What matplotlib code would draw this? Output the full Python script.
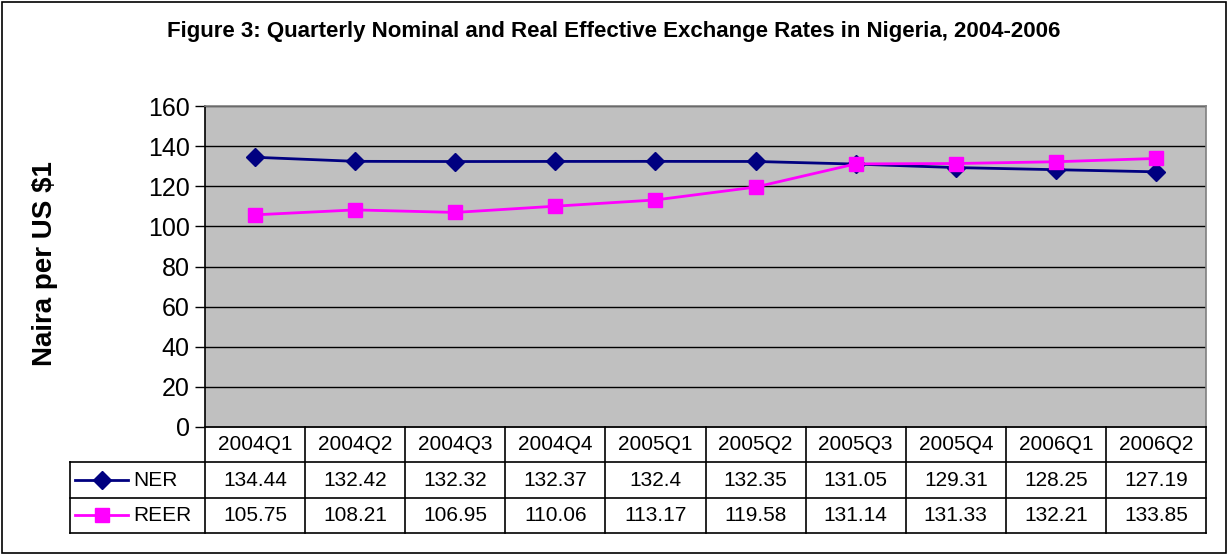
import matplotlib
matplotlib.use("Agg")
import matplotlib.pyplot as plt
from matplotlib.patches import Rectangle

plt.rcParams['font.family'] = ['Liberation Sans', 'DejaVu Sans']

quarters = ["2004Q1", "2004Q2", "2004Q3", "2004Q4", "2005Q1",
            "2005Q2", "2005Q3", "2005Q4", "2006Q1", "2006Q2"]
ner = [134.44, 132.42, 132.32, 132.37, 132.4, 132.35, 131.05, 129.31, 128.25, 127.19]
reer = [105.75, 108.21, 106.95, 110.06, 113.17, 119.58, 131.14, 131.33, 132.21, 133.85]
ner_labels = ["134.44", "132.42", "132.32", "132.37", "132.4", "132.35", "131.05", "129.31", "128.25", "127.19"]
reer_labels = ["105.75", "108.21", "106.95", "110.06", "113.17", "119.58", "131.14", "131.33", "132.21", "133.85"]
yticks = [0, 20, 40, 60, 80, 100, 120, 140, 160]

W, H = 1228, 556
fig = plt.figure(figsize=(W / 100, H / 100), dpi=100)
fig.patch.set_facecolor("white")

# outer border
fig.add_artist(Rectangle((2 / W, 3 / H), (W - 4) / W, (H - 5) / H, transform=fig.transFigure,
                         fill=False, edgecolor="black", linewidth=1.2))

def fx(px):
    return px / W

def fy(py):
    return 1 - py / H

L, R, T, B = 205, 1206, 106, 427
ax = fig.add_axes([fx(L), fy(B), (R - L) / W, (B - T) / H])
ax.set_facecolor("#C0C0C0")
ax.set_xlim(-0.5, len(quarters) - 0.5)
ax.set_ylim(0, 160)
ax.set_yticks(yticks)
ax.set_yticklabels([str(v) for v in yticks], fontsize=18)
ax.tick_params(axis="y", length=7, width=1, pad=4, direction="out")
ax.set_xticks([])
ax.grid(axis="y", color="black", linewidth=1)
ax.set_axisbelow(True)
for s in ax.spines.values():
    s.set_color("#808080")
    s.set_linewidth(1.2)
ax.spines["left"].set_color("black")

x = list(range(len(quarters)))
ax.plot(x, ner, color="#000080", linewidth=2, marker="D", markersize=9,
        markerfacecolor="#000080", markeredgecolor="#000080", zorder=3)
ax.plot(x, reer, color="#FF00FF", linewidth=2, marker="s", markersize=10,
        markerfacecolor="#FF00FF", markeredgecolor="#FF00FF", zorder=3)

ax.set_ylabel("Naira per US $1", fontsize=20, fontweight="bold")
ax.yaxis.set_label_coords(-(L - 58) / (R - L), (B - 264) / (B - T))

fig.text(0.5, fy(32), "Figure 3: Quarterly Nominal and Real Effective Exchange Rates in Nigeria, 2004-2006",
         ha="center", va="center", fontsize=16, fontweight="bold")

# data table
TL = 70
TB = 533
colw = (R - L) / len(quarters)
left_units = (L - TL) / colw
tax = fig.add_axes([fx(TL), fy(TB), (R - TL) / W, (TB - B) / H])
tax.set_xlim(-0.5 - left_units, len(quarters) - 0.5)
tax.set_ylim(3, 0)
tax.axis("off")
x0 = -0.5 - left_units
xe = len(quarters) - 0.5
lw = 1.2
tfs = 15
tax.plot([-0.5, xe], [0, 0], color="black", lw=lw, clip_on=False)
for yy in [1, 2, 3]:
    tax.plot([x0, xe], [yy, yy], color="black", lw=lw, clip_on=False)
for i in range(len(quarters) + 1):
    tax.plot([i - 0.5, i - 0.5], [0, 3], color="black", lw=lw, clip_on=False)
tax.plot([x0, x0], [1, 3], color="black", lw=lw, clip_on=False)

for i, q in enumerate(quarters):
    tax.text(i, 0.5, q, ha="center", va="center", fontsize=tfs)
    tax.text(i, 1.5, ner_labels[i], ha="center", va="center", fontsize=tfs)
    tax.text(i, 2.5, reer_labels[i], ha="center", va="center", fontsize=tfs)

# legend keys
kx0 = x0 + 5 / colw
kx1 = x0 + 58 / colw
kxm = (kx0 + kx1) / 2
tax.plot([kx0, kx1], [1.5, 1.5], color="#000080", lw=2, clip_on=False)
tax.plot([kxm], [1.5], marker="D", color="#000080", markersize=9, clip_on=False)
tax.plot([kx0, kx1], [2.5, 2.5], color="#FF00FF", lw=2, clip_on=False)
tax.plot([kxm], [2.5], marker="s", color="#FF00FF", markersize=10, clip_on=False)
tax.text(x0 + 63 / colw, 1.5, "NER", ha="left", va="center", fontsize=tfs)
tax.text(x0 + 63 / colw, 2.5, "REER", ha="left", va="center", fontsize=tfs)

fig.savefig("out.png", dpi=100)
